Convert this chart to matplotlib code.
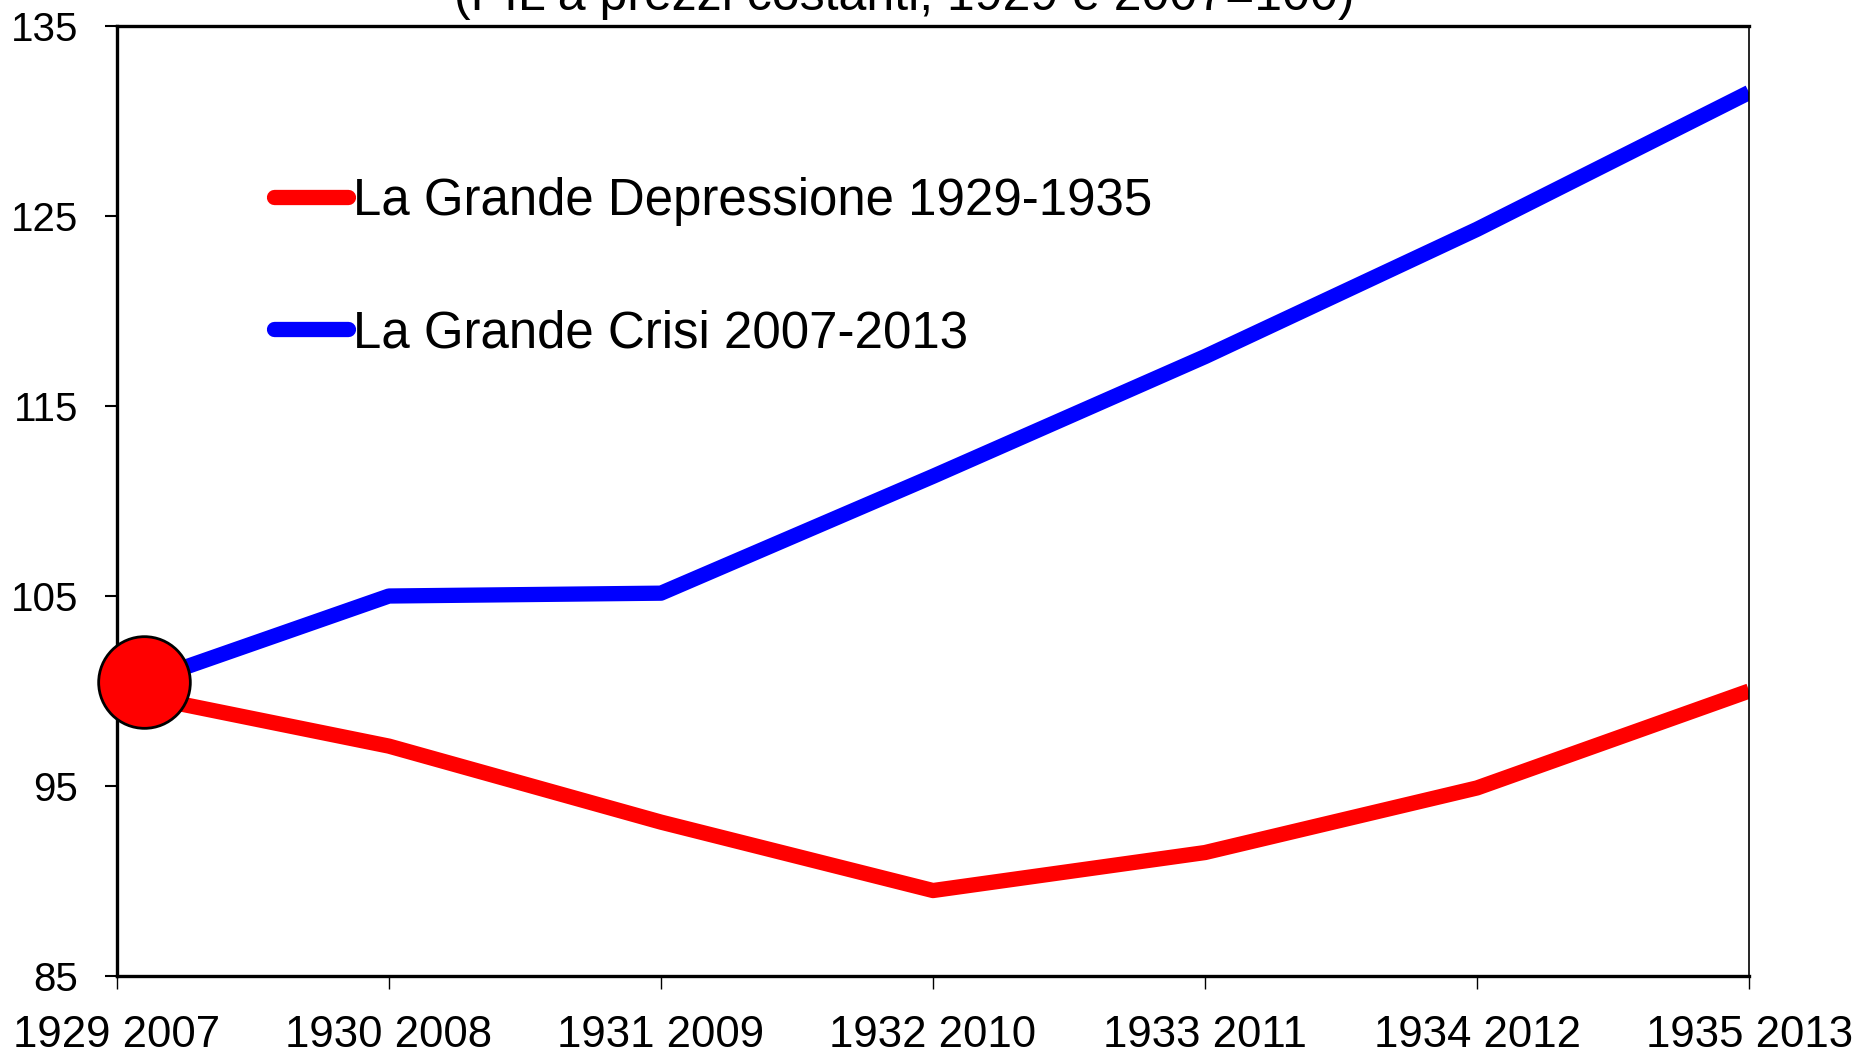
import numpy as np
import matplotlib.pyplot as plt

plt.rcParams['font.family'] = ['Liberation Sans', 'DejaVu Sans']

# dati (PIL a prezzi costanti, 1929 e 2007 = 100)
anni = ["1929 2007", "1930 2008", "1931 2009", "1932 2010",
        "1933 2011", "1934 2012", "1935 2013"]
depressione = [100.0, 97.1, 93.1, 89.5, 91.5, 94.9, 100.0]
crisi = [100.0, 105.0, 105.15, 111.3, 117.6, 124.3, 131.5]
# punto iniziale evidenziato
punto_x = [0.1]
punto_y = [100.5]

x = np.arange(len(anni))

fig = plt.figure(figsize=(18.56, 10.6), dpi=100)
ax = fig.add_axes([0.063, 0.0792, 0.8794, 0.8963])

ax.plot(x, depressione, color="red", lw=11, solid_capstyle="butt",
        label="La Grande Depressione 1929-1935")
ax.plot(x, crisi, color="blue", lw=11, solid_capstyle="butt",
        label="La Grande Crisi 2007-2013")
ax.plot(punto_x, punto_y, "o", ms=66, mfc="red", mec="black", mew=2,
        clip_on=False, zorder=5)

ax.set_xlim(0, len(anni) - 1)
ax.set_ylim(85, 135)
ax.set_yticks(np.arange(85, 136, 10))
ax.set_xticks(x)
ax.set_xticklabels(anni)

ax.tick_params(axis="y", direction="out", length=9, width=1.5,
               labelsize=29, pad=19)
ax.tick_params(axis="x", direction="out", length=9, width=1,
               labelsize=31.5, pad=19)

for side in ["left", "top", "bottom"]:
    ax.spines[side].set_linewidth(2.4)
ax.spines["right"].set_linewidth(1.2)

leg = ax.legend(loc="upper left", bbox_to_anchor=(0.1475, 0.833),
                bbox_transform=fig.transFigure, frameon=False,
                fontsize=36.7, handlelength=1.45, handletextpad=0.1,
                labelspacing=1.63, borderpad=0, borderaxespad=0)
for line in leg.get_lines():
    line.set_solid_capstyle("round")
    line.set_linewidth(11)

fig.text(0.487, 0.9905, "(PIL a prezzi costanti, 1929 e 2007=100)",
         ha="center", va="baseline", fontsize=36)

fig.savefig("out.png", dpi=100)
